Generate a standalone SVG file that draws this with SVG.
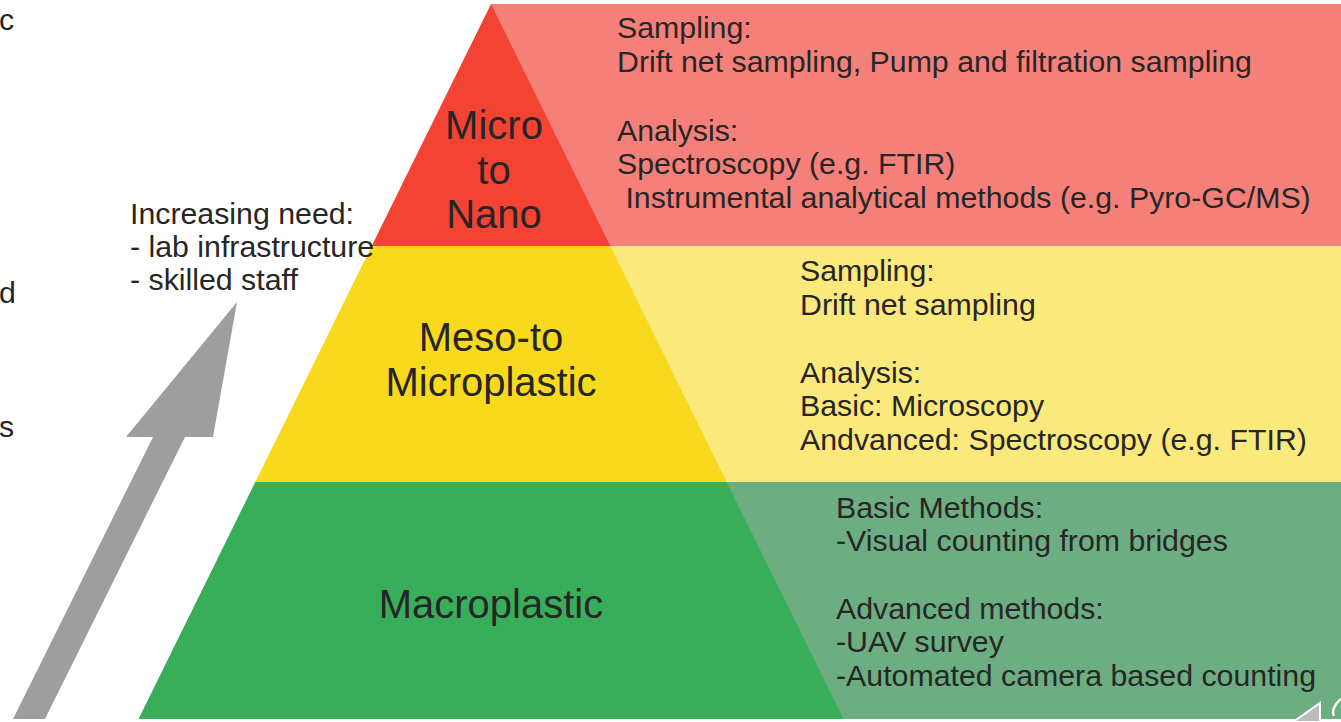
<svg xmlns="http://www.w3.org/2000/svg" width="1341" height="722" viewBox="0 0 1341 722">
<style>
  .t { font-family: "Liberation Sans", Arial, sans-serif; fill: #262626; }
  .body { font-size: 30.3px; }
  .tier { font-size: 40px; text-anchor: middle; }
</style>
<rect x="0" y="0" width="1341" height="722" fill="#ffffff"/>

<!-- left fragments (tails of words at the left edge) -->
<g id="fragments" class="t body">
  <text x="-1" y="30">c</text>
  <text x="-1" y="303">d</text>
  <text x="-1" y="437">s</text>
</g>

<!-- light panels -->
<g id="panel-micro">
  <rect x="491" y="4" width="850" height="242" fill="#f5807a"/>
  <g class="t body">
    <text x="617" y="38">Sampling:</text>
    <text x="617" y="72">Drift net sampling, Pump and filtration sampling</text>
    <text x="617" y="141">Analysis:</text>
    <text x="617" y="174">Spectroscopy (e.g. FTIR)</text>
    <text x="617" y="208" xml:space="preserve"> Instrumental analytical methods (e.g. Pyro-GC/MS)</text>
  </g>
</g>
<g id="panel-meso">
  <rect x="491" y="246" width="850" height="236" fill="#fbe97b"/>
  <g class="t body">
    <text x="800" y="281">Sampling:</text>
    <text x="800" y="315">Drift net sampling</text>
    <text x="800" y="383">Analysis:</text>
    <text x="800" y="416">Basic: Microscopy</text>
    <text x="800" y="450">Andvanced: Spectroscopy (e.g. FTIR)</text>
  </g>
</g>
<g id="panel-macro">
  <rect x="491" y="482" width="850" height="237" fill="#6dad82"/>
  <g class="t body">
    <text x="836" y="518">Basic Methods:</text>
    <text x="836" y="551">-Visual counting from bridges</text>
    <text x="836" y="619">Advanced methods:</text>
    <text x="836" y="652">-UAV survey</text>
    <text x="836" y="686">-Automated camera based counting</text>
  </g>
</g>

<!-- pyramid tiers -->
<g id="tier-micro">
  <polygon points="491,4 610.3,246 371.7,246" fill="#f44333"/>
  <g class="t tier">
    <text x="494" y="139">Micro</text>
    <text x="494" y="184">to</text>
    <text x="494" y="228">Nano</text>
  </g>
</g>
<g id="tier-meso">
  <polygon points="371.7,246 610.3,246 726.7,482 255.3,482" fill="#f9d91d"/>
  <g class="t tier">
    <text x="491" y="351">Meso-to</text>
    <text x="491" y="396">Microplastic</text>
  </g>
</g>
<g id="tier-macro">
  <polygon points="255.3,482 726.7,482 843.5,719 138.5,719" fill="#39ae5a"/>
  <text class="t tier" x="491" y="618">Macroplastic</text>
</g>

<!-- arrow and its label -->
<g id="connectors">
  <polygon id="need-arrow" points="237,302 213,437 185,437 45,719 13,719 153,437 126,437" fill="#9d9e9d"/>
</g>
<g id="need-label" class="t body">
  <text x="130" y="224">Increasing need:</text>
  <text x="130" y="257">- lab infrastructure</text>
  <text x="130" y="290">- skilled staff</text>
</g>

<!-- bottom-right corner marks -->
<g id="corner">
  <polygon points="1293,722 1320,703 1320,722" fill="#b9bdb9" stroke="#ffffff" stroke-width="2"/>
  <path d="M1334,716 C1331,710 1336,703 1341,699" fill="none" stroke="#ffffff" stroke-width="2.5"/>
</g>
</svg>
